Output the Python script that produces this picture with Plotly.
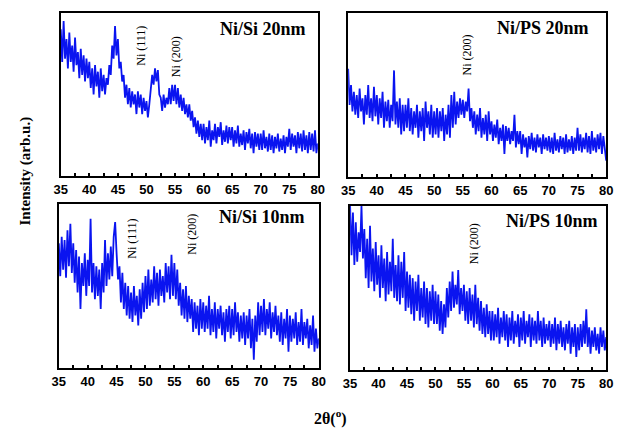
import plotly.graph_objects as go

# 2-theta positions (degrees), step 0.25 from 35 to 80
two_theta = [35 + 0.25 * i for i in range(181)]

ni_si_20 = [
    90, 70, 95, 72, 84, 66, 88, 70, 80, 64, 85, 68, 76, 60, 78, 62, 74, 58, 72, 60,
    70, 54, 66, 50, 68, 55, 64, 48, 66, 52, 62, 50, 60, 56, 68, 62, 80, 72, 92, 74,
    84, 66, 70, 58, 62, 48, 56, 44, 54, 42, 52, 44, 50, 38, 52, 42, 50, 38, 48, 40,
    46, 36, 44, 52, 62, 56, 66, 58, 65, 50, 48, 40, 50, 42, 48, 44, 54, 44, 56, 46,
    56, 44, 54, 42, 50, 40, 48, 38, 44, 36, 44, 34, 40, 30, 36, 26, 34, 24, 32, 22,
    32, 20, 30, 22, 34, 18, 28, 22, 32, 20, 30, 24, 33, 19, 28, 21, 31, 20, 30, 22,
    30, 18, 28, 20, 31, 18, 26, 19, 28, 16, 27, 20, 29, 17, 26, 14, 27, 18, 26, 16,
    26, 16, 28, 17, 24, 15, 26, 16, 25, 14, 24, 17, 26, 15, 23, 16, 25, 14, 24, 18,
    29, 16, 26, 18, 25, 14, 27, 17, 26, 15, 28, 16, 25, 14, 27, 16, 26, 15, 28, 14,
    20,
]

ni_ps_20 = [
    66, 44, 56, 40, 52, 38, 50, 36, 54, 40, 48, 32, 50, 38, 56, 36, 48, 34, 55, 37,
    50, 32, 48, 36, 52, 30, 46, 34, 47, 30, 44, 34, 65, 32, 46, 30, 48, 26, 44, 28,
    44, 30, 48, 28, 42, 26, 40, 30, 44, 24, 40, 28, 42, 22, 46, 30, 40, 26, 44, 24,
    40, 26, 42, 24, 40, 28, 42, 22, 38, 26, 44, 24, 50, 30, 52, 32, 46, 36, 48, 38,
    47, 36, 46, 40, 54, 34, 42, 30, 40, 26, 38, 28, 42, 24, 36, 26, 38, 22, 40, 26,
    34, 22, 32, 24, 35, 20, 30, 22, 32, 14, 31, 22, 30, 20, 28, 22, 38, 18, 28, 20,
    28, 14, 26, 18, 24, 12, 25, 17, 27, 16, 24, 15, 26, 18, 24, 14, 26, 17, 24, 16,
    25, 15, 24, 14, 27, 16, 23, 15, 25, 17, 24, 14, 26, 15, 23, 16, 25, 14, 24, 16,
    30, 16, 26, 15, 24, 17, 27, 15, 25, 14, 28, 16, 24, 15, 26, 17, 27, 14, 25, 18,
    10,
]

ni_si_10 = [
    76, 56, 80, 60, 78, 55, 84, 62, 88, 58, 76, 52, 72, 46, 68, 36, 64, 50, 70, 44,
    66, 50, 91, 46, 64, 42, 62, 44, 60, 36, 64, 46, 78, 50, 70, 54, 74, 56, 80, 89,
    70, 54, 62, 40, 58, 36, 52, 32, 50, 30, 46, 28, 50, 32, 44, 26, 48, 30, 52, 34,
    56, 36, 60, 38, 54, 40, 62, 42, 58, 38, 60, 44, 56, 40, 64, 46, 62, 42, 69, 44,
    64, 42, 60, 38, 52, 32, 48, 30, 50, 28, 44, 30, 42, 22, 40, 24, 38, 20, 42, 24,
    40, 22, 38, 24, 44, 20, 36, 22, 40, 18, 36, 24, 38, 20, 34, 16, 36, 22, 38, 18,
    36, 20, 40, 22, 34, 16, 32, 18, 34, 14, 32, 18, 36, 12, 30, 5, 32, 16, 40, 20,
    38, 22, 42, 20, 36, 24, 40, 18, 34, 22, 38, 20, 32, 16, 34, 14, 30, 18, 36, 10,
    32, 16, 30, 18, 34, 14, 28, 16, 36, 14, 28, 18, 30, 12, 26, 14, 32, 10, 24, 12,
    18,
]

ni_ps_10 = [
    100, 70, 96, 64, 90, 66, 84, 72, 100, 68, 86, 56, 80, 50, 88, 54, 74, 48, 78, 52,
    70, 44, 76, 50, 68, 42, 72, 46, 66, 48, 80, 44, 64, 42, 70, 40, 66, 44, 72, 36,
    60, 38, 58, 34, 56, 30, 54, 36, 58, 30, 50, 32, 54, 28, 50, 26, 48, 30, 52, 28,
    48, 28, 46, 24, 42, 22, 40, 26, 50, 32, 54, 36, 60, 38, 52, 40, 61, 34, 50, 36,
    52, 30, 48, 28, 50, 30, 46, 26, 52, 28, 44, 24, 42, 22, 38, 20, 40, 22, 36, 18,
    36, 18, 34, 20, 38, 16, 32, 20, 36, 18, 34, 14, 32, 18, 36, 16, 30, 20, 34, 14,
    32, 18, 36, 16, 30, 20, 34, 14, 32, 18, 30, 16, 36, 18, 30, 14, 32, 16, 28, 18,
    30, 14, 28, 16, 32, 12, 28, 16, 30, 14, 26, 12, 28, 16, 30, 10, 26, 14, 28, 8,
    26, 12, 28, 14, 30, 16, 37, 14, 26, 10, 24, 14, 26, 12, 22, 10, 26, 14, 24, 12,
    20,
]

panel_series = [ni_si_20, ni_ps_20, ni_si_10, ni_ps_10]
panel_titles = ["Ni/Si 20nm", "Ni/PS 20nm", "Ni/Si 10nm", "Ni/PS 10nm"]
x_ticks = [35, 40, 45, 50, 55, 60, 65, 70, 75, 80]

W, H = 622, 431
# panel frames in pixels: left, right, top, bottom
frames = [(55, 318, 13, 176), (349, 613, 13, 177), (53, 319, 204, 368), (351, 613, 206, 370)]

# peak labels: (panel index, text, 2theta, y fraction of panel)
peak_labels = [
    (0, "Ni (111)", 48.9, 0.80), (0, "Ni (200)", 55.2, 0.73),
    (1, "Ni (200)", 55.8, 0.744),
    (2, "Ni (111)", 47.7, 0.79), (2, "Ni (200)", 58.0, 0.817),
    (3, "Ni (200)", 56.8, 0.768),
]
title_pos = [(0.962, 0.90), (0.943, 0.91), (0.955, 0.918), (0.977, 0.909)]

fig = go.Figure()
layout = dict(
    width=W, height=H, margin=dict(l=0, r=0, t=0, b=0),
    paper_bgcolor="white", plot_bgcolor="white", showlegend=False,
)
annotations = []
for i, (ys, fr) in enumerate(zip(panel_series, frames)):
    n = i + 1
    xa = "x" if n == 1 else f"x{n}"
    ya = "y" if n == 1 else f"y{n}"
    fig.add_trace(go.Scatter(x=two_theta, y=ys, mode="lines",
                             line=dict(color="#0a14f0", width=1.8),
                             xaxis=xa, yaxis=ya, hoverinfo="skip"))
    l, r, t, b = fr
    xkey = "xaxis" if n == 1 else f"xaxis{n}"
    ykey = "yaxis" if n == 1 else f"yaxis{n}"
    layout[xkey] = dict(
        domain=[l / W, r / W], anchor=ya, range=[35, 80],
        tickvals=x_ticks, ticks="inside", ticklen=3, tickwidth=1.5, tickcolor="black",
        minor=dict(dtick=2.5, tick0=35, ticks="inside", ticklen=3, tickwidth=1.5, tickcolor="black"),
        showline=True, linecolor="black", linewidth=2, mirror=True, showgrid=False,
        zeroline=False, tickfont=dict(family="Liberation Sans", size=13, color="black", weight="bold"),
        ticklabelstandoff=0,
    )
    layout[ykey] = dict(
        domain=[1 - b / H, 1 - t / H], anchor=xa, range=[0, 100],
        showticklabels=False, ticks="", showline=True, linecolor="black",
        linewidth=2, mirror=True, showgrid=False, zeroline=False,
    )
    tx, ty = title_pos[i]
    annotations.append(dict(
        text=panel_titles[i], xref=f"{xa} domain", yref=f"{ya} domain",
        x=tx, y=ty, xanchor="right", yanchor="middle", showarrow=False,
        font=dict(family="Liberation Serif", size=18, color="black", weight="bold"),
    ))

for pi, txt, xv, yf in peak_labels:
    n = pi + 1
    xa = "x" if n == 1 else f"x{n}"
    ya = "y" if n == 1 else f"y{n}"
    annotations.append(dict(
        text=txt, xref=xa, yref=f"{ya} domain", x=xv, y=yf,
        xanchor="center", yanchor="middle", textangle=-90, showarrow=False,
        font=dict(family="Liberation Serif", size=12, color="black"),
    ))

annotations.append(dict(
    text="Intensity (arb.u.)", xref="paper", yref="paper", x=18 / W, y=1 - 171 / H,
    xanchor="center", yanchor="middle", textangle=-90, showarrow=False,
    font=dict(family="Liberation Serif", size=15, color="black", weight="bold"),
))
annotations.append(dict(
    text="2θ(<sup>o</sup>)", xref="paper", yref="paper", x=331 / W, y=1 - 417 / H,
    xanchor="center", yanchor="middle", showarrow=False,
    font=dict(family="Liberation Serif", size=16, color="black", weight="bold"),
))
layout["annotations"] = annotations
fig.update_layout(**layout)
fig.write_html(
    "out.html",
    config={"displayModeBar": False},
    post_script="document.body.style.margin='0';document.body.style.overflow='hidden';",
)
